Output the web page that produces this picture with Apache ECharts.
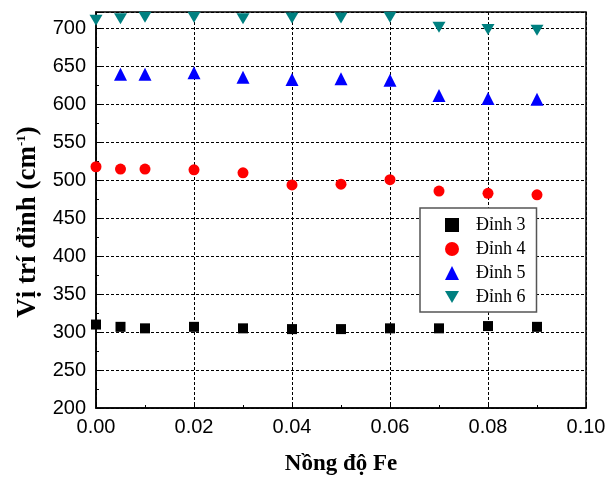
<!DOCTYPE html>
<html>
<head>
<meta charset="utf-8">
<script src="https://cdn.jsdelivr.net/npm/echarts@6/dist/echarts.min.js"></script>
<style>html,body{margin:0;padding:0;background:#fff}#c{width:614px;height:481px}</style>
</head>
<body>
<div id="c"></div>
<script>
const xFe = [0, 0.005, 0.01, 0.02, 0.03, 0.04, 0.05, 0.06, 0.07, 0.08, 0.09];
const dinh3 = [310, 307, 305, 307, 305, 304, 304, 305, 305, 308, 307];
const dinh4 = [518, 515, 515, 514, 510, 494, 495, 501, 486, 483, 481];
const xFe5 = [0.005, 0.01, 0.02, 0.03, 0.04, 0.05, 0.06, 0.07, 0.08, 0.09];
const dinh5 = [640, 640, 642, 636, 633, 634, 632, 612, 608, 607];
const dinh6 = [711, 713, 715, 715, 713, 714, 714, 715, 702, 699, 698];
const seriesNames = ['Đỉnh 3', 'Đỉnh 4', 'Đỉnh 5', 'Đỉnh 6'];
const xTicks = [0, 0.02, 0.04, 0.06, 0.08, 0.1];
const yTicks = [200, 250, 300, 350, 400, 450, 500, 550, 600, 650, 700];

const pair = (xs, ys) => xs.map((x, i) => [x, ys[i]]);
const downTri = 'path://M0,0 L10,0 L5,8.66 Z';

const chart = echarts.init(document.getElementById('c'), null, {renderer: 'canvas'});
const axisLabelFont = {fontFamily: 'Liberation Sans, Arial, sans-serif', fontSize: 20, color: '#000'};
const serif = 'Liberation Serif, Times New Roman, serif';
chart.setOption({
  animation: false,
  backgroundColor: '#fff',
  grid: {left: 96, right: 28, top: 12, bottom: 71, show: true, borderColor: '#000', borderWidth: 1.5, backgroundColor: 'transparent'},
  xAxis: {
    type: 'value', min: 0, max: 0.1, interval: 0.02,
    axisLine: {show: true, lineStyle: {color: '#000', width: 1.5}},
    axisTick: {show: true, inside: true, length: 6, lineStyle: {color: '#000', width: 1}},
    minorTick: {show: true, splitNumber: 2, length: 3, lineStyle: {color: '#000'}},
    splitLine: {show: true, lineStyle: {color: '#000', type: [3, 2], width: 1}},
    axisLabel: Object.assign({margin: 9, formatter: v => xTicks.some(t => Math.abs(t - v) < 1e-9) ? v.toFixed(2) : ''}, axisLabelFont),
    name: 'Nồng độ Fe', nameLocation: 'middle', nameGap: 45,
    nameTextStyle: {fontFamily: serif, fontWeight: 'bold', fontSize: 23, color: '#000'}
  },
  yAxis: {
    type: 'value', min: 200, max: 722, interval: 50,
    axisLine: {show: true, lineStyle: {color: '#000', width: 1.5}},
    axisTick: {show: true, inside: true, length: 6, lineStyle: {color: '#000', width: 1}},
    minorTick: {show: true, splitNumber: 2, length: 3, lineStyle: {color: '#000'}},
    splitLine: {show: true, lineStyle: {color: '#000', type: [3, 2], width: 1}},
    axisLabel: Object.assign({margin: 10, showMaxLabel: false, formatter: v => yTicks.indexOf(v) >= 0 ? String(v) : ''}, axisLabelFont),
    name: 'Vị trí đỉnh (cm{sup|-1})', nameLocation: 'middle', nameGap: 54,
    nameTextStyle: {fontFamily: serif, fontWeight: 'bold', fontSize: 27, color: '#000', padding: [0, 24, 0, 0],
      rich: {sup: {fontFamily: serif, fontWeight: 'bold', fontSize: 13, verticalAlign: 'top', padding: [0, 0, 12, 0], color: '#000'}}}
  },
  legend: {
    orient: 'vertical', left: 420, top: 208,
    padding: [8, 11, 6, 25], itemGap: 6, itemWidth: 14, itemHeight: 14,
    backgroundColor: '#fff', borderColor: '#555', borderWidth: 1.5,
    textStyle: {fontFamily: serif, fontSize: 18, color: '#000', padding: [0, 0, 0, 12], lineHeight: 17},
    data: seriesNames
  },
  series: [
    {name: seriesNames[0], type: 'scatter', data: pair(xFe, dinh3), symbol: 'rect', symbolSize: 10, itemStyle: {color: '#000', opacity: 1}, clip: false},
    {name: seriesNames[1], type: 'scatter', data: pair(xFe, dinh4), symbol: 'circle', symbolSize: 11, itemStyle: {color: '#ff0000', opacity: 1}, clip: false},
    {name: seriesNames[2], type: 'scatter', data: pair(xFe5, dinh5), symbol: 'triangle', symbolSize: 13, itemStyle: {color: '#0000ff', opacity: 1}, clip: false},
    {name: seriesNames[3], type: 'scatter', data: pair(xFe, dinh6), symbol: downTri, symbolSize: [13, 11], itemStyle: {color: '#008080', opacity: 1}, clip: false}
  ]
});
</script>
</body>
</html>
